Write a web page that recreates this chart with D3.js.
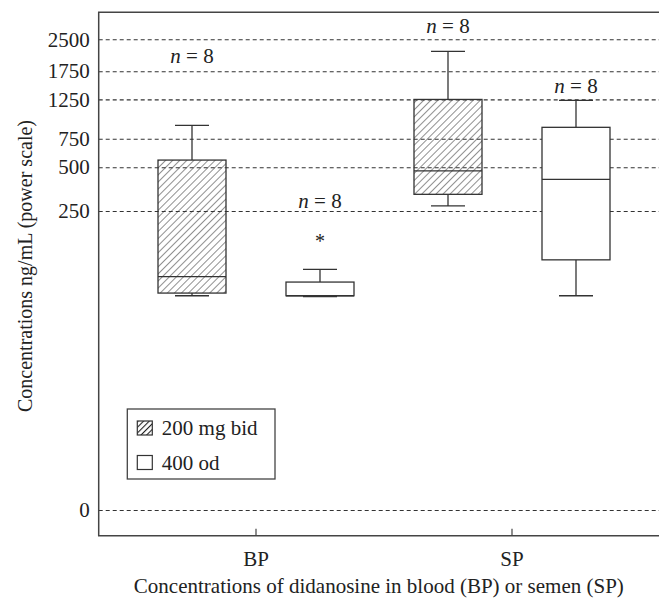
<!DOCTYPE html>
<html>
<head>
<meta charset="utf-8">
<script src="https://cdn.jsdelivr.net/npm/d3@7"></script>
<style>
  body { margin: 0; background: #fff; }
  svg text { font-family: "Liberation Serif", "Times New Roman", Times, serif !important; fill: #222; }
</style>
</head>
<body>
<div id="chart"></div>
<script>
// values (ng/mL)
const categories = ["BP", "SP"];
const groups = ["200 mg bid", "400 od"];
// per group: [BP, SP]
const whiskerLow = [[46, 272], [45, 46]];
const q1 = [[49, 329], [46, 101]];
const median = [[71, 473], [46, 416]];
const q3 = [[555, 1249], [63, 874]];
const whiskerHigh = [[898, 2189], [83, 1234]];
const outliers = [{ cat: "BP", group: "400 od", value: 158 }];
const nText = [["8", "8"], ["8", "8"]];
const nLabelAt = [[1916, 2663], [262, 1345]];
const yTicks = [0, 250, 500, 750, 1250, 1750, 2500];

const width = 659, height = 599;
const frameLeft = 98.7, frameTop = 12.3, frameBottom = 535.7, frameRight = 659;
const serif = "Liberation Serif, Times New Roman, serif";

const svg = d3.select("#chart").append("svg")
  .attr("width", width)
  .attr("height", height)
  .attr("font-family", serif);

const defs = svg.append("defs");
defs.append("pattern")
  .attr("id", "hatch")
  .attr("patternUnits", "userSpaceOnUse")
  .attr("width", 5).attr("height", 5)
  .attr("patternTransform", "rotate(45)")
  .append("line")
  .attr("x1", 0).attr("y1", 0).attr("x2", 0).attr("y2", 5)
  .attr("stroke", "#333").attr("stroke-width", 1.1);
defs.append("pattern")
  .attr("id", "hatchDense")
  .attr("patternUnits", "userSpaceOnUse")
  .attr("width", 4).attr("height", 4)
  .attr("patternTransform", "rotate(45)")
  .append("line")
  .attr("x1", 0).attr("y1", 0).attr("x2", 0).attr("y2", 4)
  .attr("stroke", "#222").attr("stroke-width", 2.2);

// Scales
const y = d3.scalePow().exponent(0.197)
  .domain([0, 2500])
  .range([510, 39.3]);
const x = d3.scaleBand().domain(categories).range([128, 640]);
const xInner = d3.scaleBand().domain(groups).range([0, x.bandwidth()]);
const boxW = 68, capW = 34;
const cx = (c, g) => x(c) + xInner(g) + xInner.bandwidth() / 2;

// dashed grid + y tick labels
const yAxis = svg.append("g")
  .attr("transform", `translate(${frameLeft},0)`)
  .call(d3.axisLeft(y).tickValues(yTicks).tickSize(-(frameRight - frameLeft)).tickPadding(9).tickFormat(d3.format("d")));
yAxis.attr("font-family", serif).attr("font-size", 21);
yAxis.select(".domain").remove();
yAxis.selectAll(".tick line")
  .attr("stroke", "#333").attr("stroke-width", 1.1).attr("stroke-dasharray", "4,3");
yAxis.selectAll(".tick text").attr("fill", "#222");

// frame
svg.append("path")
  .attr("d", `M${frameRight},${frameTop}H${frameLeft}V${frameBottom}H${frameRight}`)
  .attr("fill", "none").attr("stroke", "#444").attr("stroke-width", 1.5);

// x axis ticks (inward) and labels
const xAxis = svg.append("g")
  .attr("transform", `translate(0,${frameBottom})`)
  .call(d3.axisTop(x).tickSize(7).tickFormat(""));
xAxis.select(".domain").remove();
xAxis.selectAll(".tick line").attr("stroke", "#444").attr("stroke-width", 1.2);
svg.selectAll(".xlab")
  .data(categories)
  .enter()
  .append("text")
  .attr("class", "xlab")
  .attr("x", (d) => x(d) + x.bandwidth() / 2)
  .attr("y", 566)
  .attr("text-anchor", "middle")
  .attr("font-size", 21)
  .text((d) => d);

// boxes
const boxes = [];
groups.forEach((g, gi) => {
  categories.forEach((c, ci) => {
    boxes.push({
      g, c, gi,
      lo: whiskerLow[gi][ci], q1: q1[gi][ci], med: median[gi][ci],
      q3: q3[gi][ci], hi: whiskerHigh[gi][ci],
      n: nText[gi][ci], nAt: nLabelAt[gi][ci]
    });
  });
});

const stroke = "#333";
const bx = svg.selectAll(".box")
  .data(boxes)
  .enter()
  .append("g")
  .attr("class", "box");

// whiskers
bx.append("line")
  .attr("x1", (d) => cx(d.c, d.g)).attr("x2", (d) => cx(d.c, d.g))
  .attr("y1", (d) => y(d.q3)).attr("y2", (d) => y(d.hi))
  .attr("stroke", stroke).attr("stroke-width", 1.3);
bx.append("line")
  .attr("x1", (d) => cx(d.c, d.g)).attr("x2", (d) => cx(d.c, d.g))
  .attr("y1", (d) => y(d.q1)).attr("y2", (d) => y(d.lo))
  .attr("stroke", stroke).attr("stroke-width", 1.3);
// caps
["hi", "lo"].forEach((k) => {
  bx.append("line")
    .attr("x1", (d) => cx(d.c, d.g) - capW / 2).attr("x2", (d) => cx(d.c, d.g) + capW / 2)
    .attr("y1", (d) => y(d[k])).attr("y2", (d) => y(d[k]))
    .attr("stroke", stroke).attr("stroke-width", 1.3);
});
// box body
bx.append("rect")
  .attr("x", (d) => cx(d.c, d.g) - boxW / 2)
  .attr("y", (d) => y(d.q3))
  .attr("width", boxW)
  .attr("height", (d) => y(d.q1) - y(d.q3))
  .attr("fill", (d) => (d.gi === 0 ? "url(#hatch)" : "#fff"))
  .attr("stroke", stroke).attr("stroke-width", 1.3);
// median
bx.append("line")
  .attr("x1", (d) => cx(d.c, d.g) - boxW / 2).attr("x2", (d) => cx(d.c, d.g) + boxW / 2)
  .attr("y1", (d) => y(d.med)).attr("y2", (d) => y(d.med))
  .attr("stroke", stroke).attr("stroke-width", 1.3);
// n labels
const nl = bx.append("text")
  .attr("x", (d) => cx(d.c, d.g))
  .attr("y", (d) => y(d.nAt))
  .attr("text-anchor", "middle")
  .attr("font-size", 21);
nl.append("tspan").attr("font-style", "italic").text("n");
nl.append("tspan").text((d) => " = " + d.n);

// outliers
svg.selectAll(".outlier")
  .data(outliers)
  .enter()
  .append("text")
  .attr("class", "outlier")
  .attr("x", (d) => cx(d.cat, d.group))
  .attr("y", (d) => y(d.value))
  .attr("dy", "0.55em")
  .attr("text-anchor", "middle")
  .attr("font-size", 20)
  .attr("fill", "#555")
  .text("*");

// legend
const legend = svg.append("g").attr("transform", "translate(127.3,409)");
legend.append("rect")
  .attr("width", 147.7).attr("height", 70)
  .attr("fill", "#fff").attr("stroke", "#444").attr("stroke-width", 1.3);
const li = legend.selectAll(".li")
  .data(groups)
  .enter()
  .append("g")
  .attr("transform", (d, i) => `translate(10,${12 + i * 34.5})`);
li.append("rect")
  .attr("width", 15).attr("height", 14)
  .attr("fill", (d, i) => (i === 0 ? "url(#hatchDense)" : "#fff"))
  .attr("stroke", "#333").attr("stroke-width", 1.2);
li.append("text")
  .attr("x", 24.5).attr("y", 14)
  .attr("font-size", 21)
  .text((d) => d);

// axis titles
svg.append("text")
  .attr("transform", "translate(32,266) rotate(-90)")
  .attr("text-anchor", "middle")
  .attr("font-size", 20)
  .text("Concentrations ng/mL (power scale)");
svg.append("text")
  .attr("x", (frameLeft + frameRight) / 2)
  .attr("y", 593)
  .attr("text-anchor", "middle")
  .attr("font-size", 21)
  .text("Concentrations of didanosine in blood (BP) or semen (SP)");
</script>
</body>
</html>
